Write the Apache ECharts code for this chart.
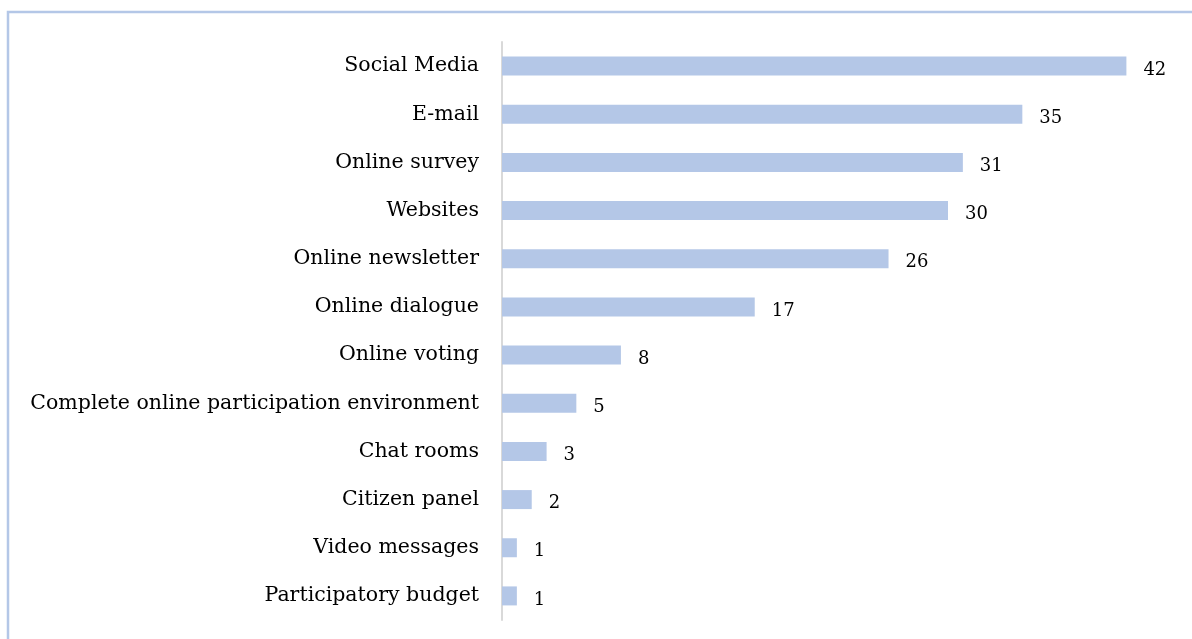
<!DOCTYPE html>
<html>
<head>
<meta charset="utf-8">
<script src="https://cdn.jsdelivr.net/npm/echarts@6/dist/echarts.min.js"></script>
<style>
html,body{margin:0;padding:0;background:#fff;}
#chart{width:1192px;height:639px;}
</style>
</head>
<body>
<div id="chart"></div>
<script>
const categories = [
  "Social Media",
  "E-mail",
  "Online survey",
  "Websites",
  "Online newsletter",
  "Online dialogue",
  "Online voting",
  "Complete online participation environment",
  "Chat rooms",
  "Citizen panel",
  "Video messages",
  "Participatory budget"
];
const values = [42, 35, 31, 30, 26, 17, 8, 5, 3, 2, 1, 1];

const chart = echarts.init(document.getElementById('chart'), null, {renderer: 'canvas'});
chart.setOption({
  animation: false,
  backgroundColor: '#ffffff',
  graphic: [{
    type: 'rect',
    shape: {x: 8, y: 12, width: 1250, height: 700},
    style: {fill: 'none', stroke: '#b4c7e7', lineWidth: 2.5},
    silent: true,
    z: 0
  }],
  grid: {left: 502, top: 42, right: 21, bottom: 19, containLabel: false},
  xAxis: {
    type: 'value',
    min: 0,
    max: 45,
    show: false
  },
  yAxis: {
    type: 'category',
    data: categories,
    inverse: true,
    axisLine: {show: true, lineStyle: {color: '#d9d9d9', width: 2}},
    axisTick: {show: false},
    splitLine: {show: false},
    axisLabel: {
      margin: 23,
      color: '#000000',
      fontFamily: 'DejaVu Serif',
      fontSize: 20.5
    }
  },
  series: [{
    type: 'bar',
    data: values,
    barWidth: 19,
    itemStyle: {color: '#b4c7e7'},
    label: {
      show: true,
      position: 'right',
      distance: 17,
      offset: [0, 4],
      color: '#000000',
      fontFamily: 'DejaVu Serif',
      fontSize: 18
    }
  }]
});
</script>
</body>
</html>
